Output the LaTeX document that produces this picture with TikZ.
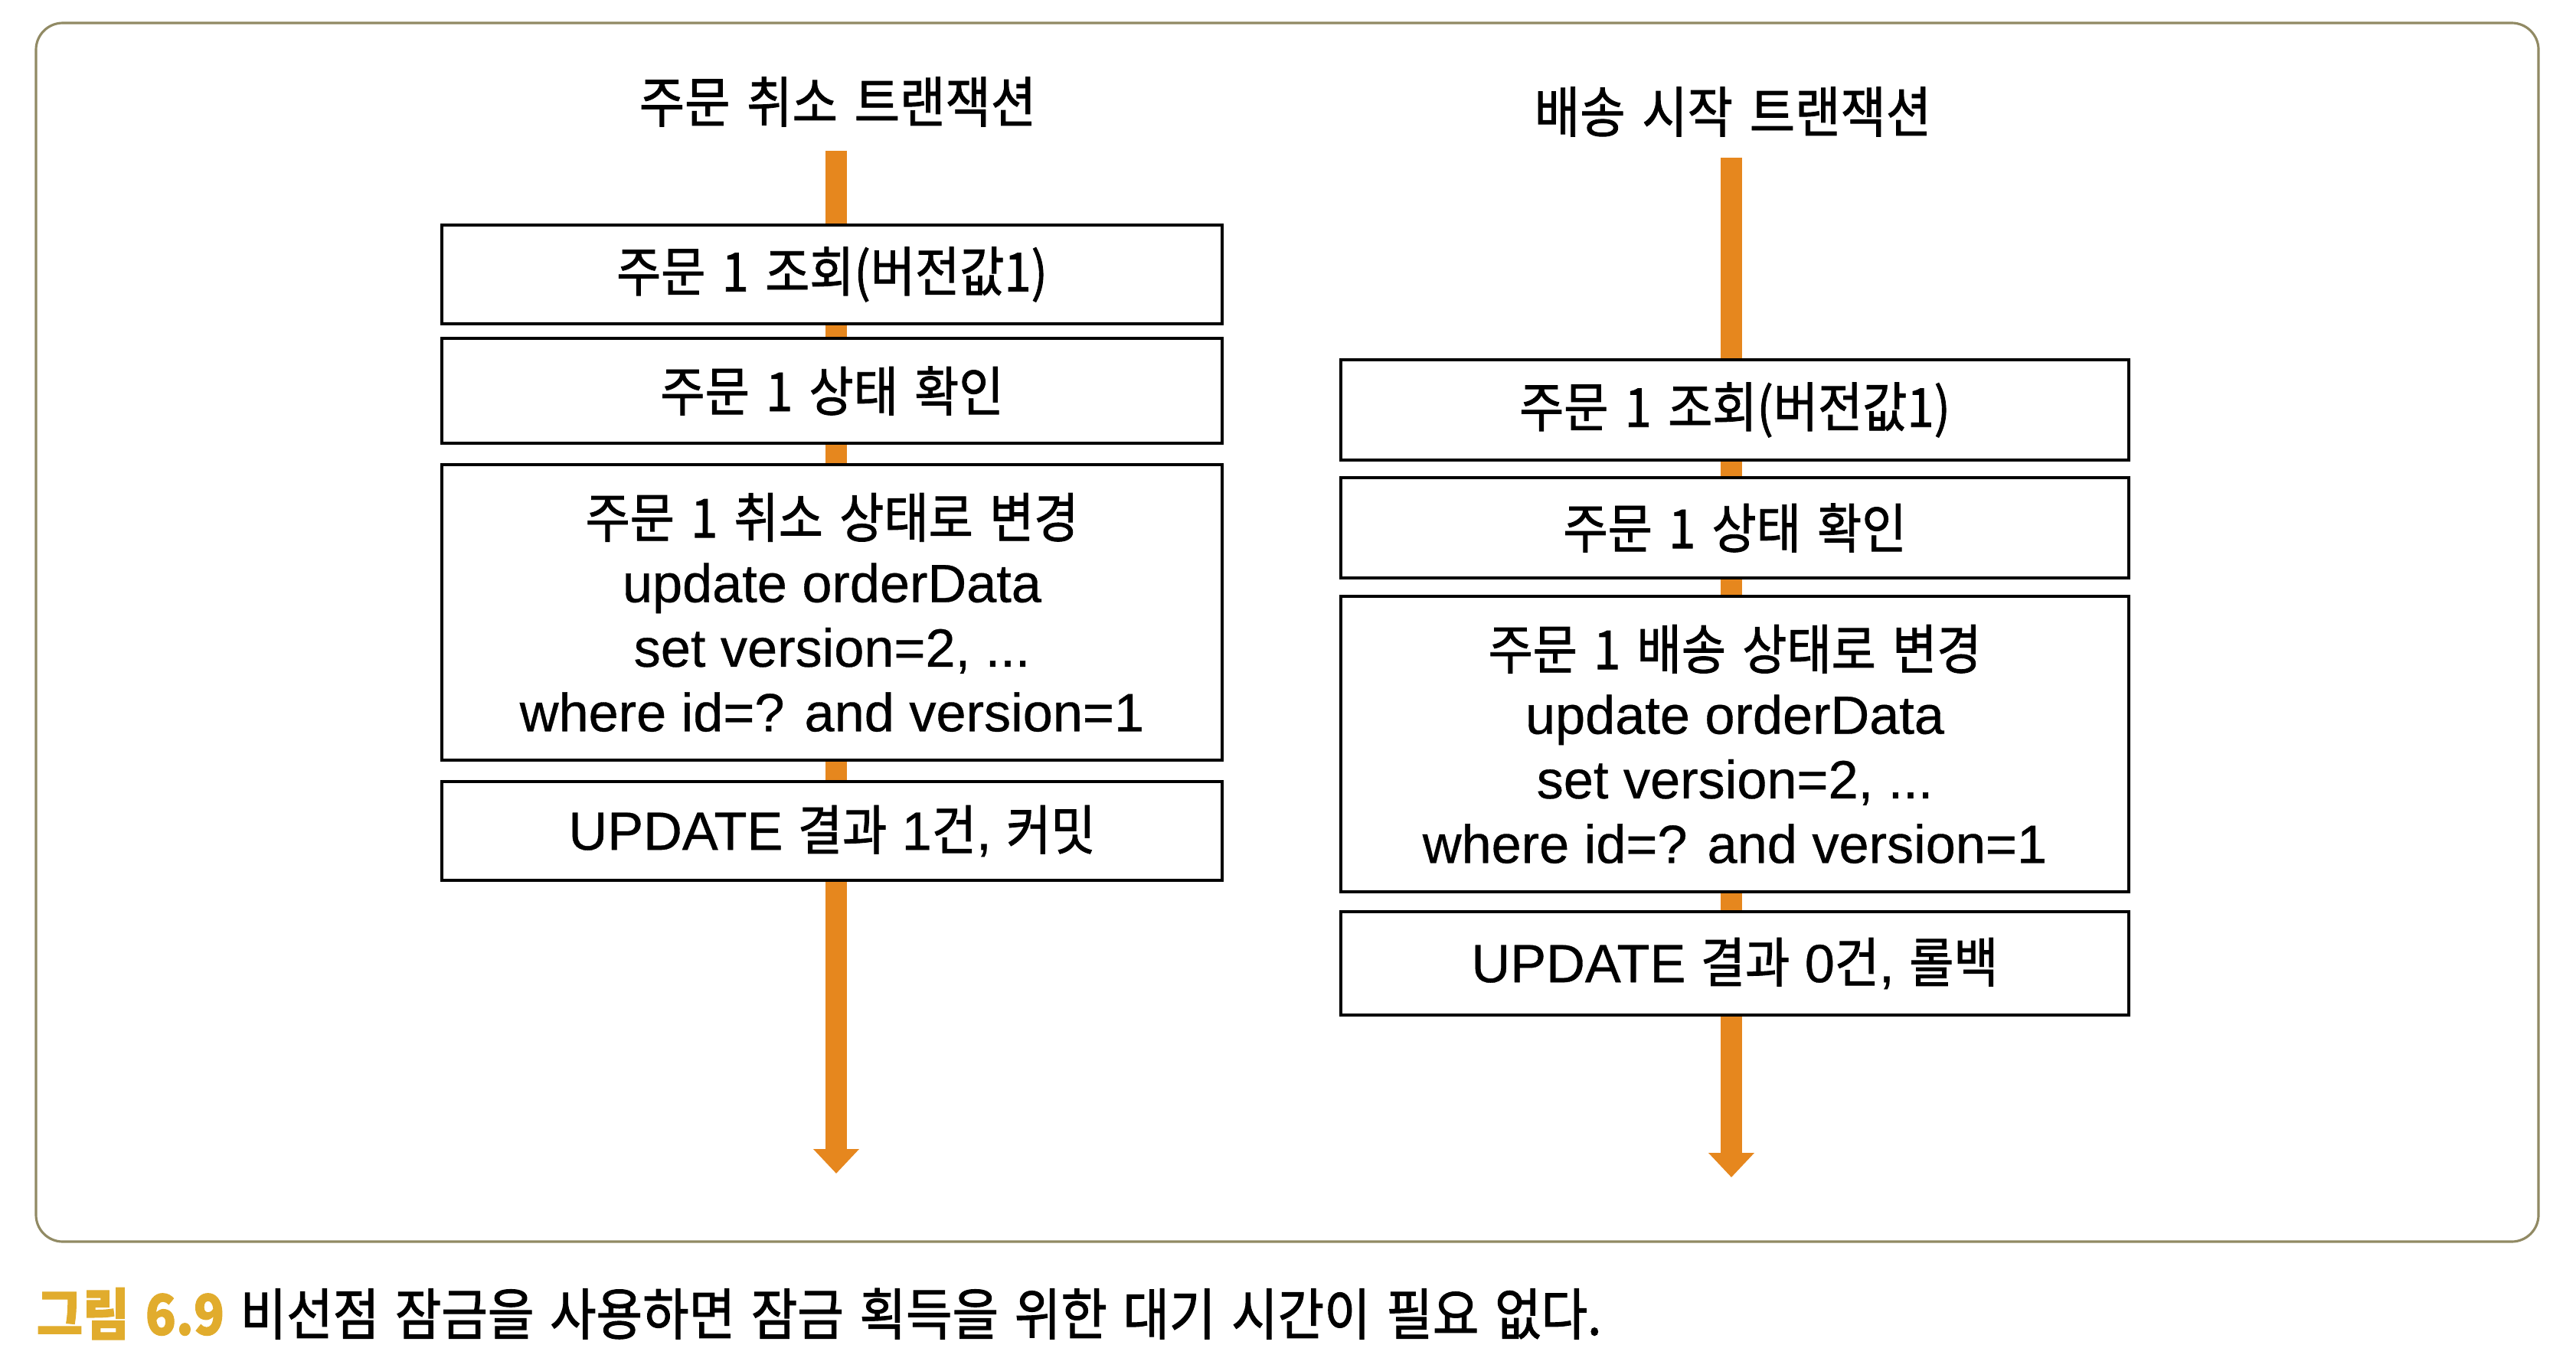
\documentclass[tikz,border=0pt]{standalone}
\usepackage{fontspec}
\setmainfont[FakeBold=0.5]{Liberation Sans}
\newfontfamily\kr[FakeStretch=0.9,FakeBold=1.2,WordSpace=1.5]{Noto Sans CJK KR}
\newfontfamily\krcap[FakeStretch=0.9,FakeBold=1.4,WordSpace=1.4]{Noto Sans CJK KR}
\usetikzlibrary{arrows.meta}
\definecolor{ord}{RGB}{230,135,30}
\definecolor{gold}{RGB}{225,172,45}
\definecolor{frm}{RGB}{145,138,100}
\newcommand\K[1]{{\kr#1}}
\begin{document}
\begin{tikzpicture}[x=1cm,y=1cm,
  stepbox/.style={draw=black, line width=1.3pt, fill=white, inner sep=0pt, align=center,
    font=\fontsize{20}{24}\selectfont},
  flow/.style={draw=ord, line width=0.28cm, -{Triangle[width=0.58cm,length=0.32cm]}},
  ttl/.style={font=\kr\fontsize{20.4}{24}\selectfont, inner sep=0pt}]
\useasboundingbox (0,0) rectangle (33.64,-17.90);
\node[draw=frm, line width=0.9pt, rounded corners=0.35cm, minimum width=32.68cm,
  minimum height=15.92cm, inner sep=0pt] (frame) at (16.81,-8.26) {};
% titles
\node[ttl] (tl) at (10.94,-1.33) {주문 취소 트랜잭션};
\node[ttl] (tr) at (22.63,-1.46) {배송 시작 트랜잭션};
% flow lines
\coordinate (ls) at (10.92,-1.97);
\coordinate (le) at (10.92,-15.33);
\coordinate (rs) at (22.61,-2.06);
\coordinate (re) at (22.61,-15.38);
\draw[flow] (ls) -- (le);
\draw[flow] (rs) -- (re);
% left boxes
\node[stepbox, minimum width=10.19cm, minimum height=1.29cm] (l1) at (10.865,-3.585)
  {\K{주문 1 조회(버전값1)}};
\node[stepbox, minimum width=10.19cm, minimum height=1.37cm] (l2) at (10.865,-5.105)
  {\K{주문 1 상태 확인}};
\node[stepbox, minimum width=10.19cm, minimum height=3.86cm] (l3) at (10.865,-8.00)
  {\K{주문 1 취소 상태로 변경}\\update orderData\\set version=2, ...\\where id=? and version=1};
\node[stepbox, minimum width=10.19cm, minimum height=1.29cm] (l4) at (10.865,-10.855)
  {UPDATE \K{결과} 1\K{건}, \K{커밋}};
% right boxes
\node[stepbox, minimum width=10.29cm, minimum height=1.31cm] (r1) at (22.655,-5.355)
  {\K{주문 1 조회(버전값1)}};
\node[stepbox, minimum width=10.29cm, minimum height=1.31cm] (r2) at (22.655,-6.895)
  {\K{주문 1 상태 확인}};
\node[stepbox, minimum width=10.29cm, minimum height=3.86cm] (r3) at (22.655,-9.72)
  {\K{주문 1 배송 상태로 변경}\\update orderData\\set version=2, ...\\where id=? and version=1};
\node[stepbox, minimum width=10.29cm, minimum height=1.35cm] (r4) at (22.655,-12.585)
  {UPDATE \K{결과} 0\K{건}, \K{롤백}};
% caption
\node[anchor=west, inner sep=0pt, font=\krcap\fontsize{20.8}{24}\selectfont] (cap) at (0.47,-17.16)
  {{\bfseries\color{gold}그림 6.9} 비선점 잠금을 사용하면 잠금 획득을 위한 대기 시간이 필요 없다.};
\end{tikzpicture}
\end{document}
